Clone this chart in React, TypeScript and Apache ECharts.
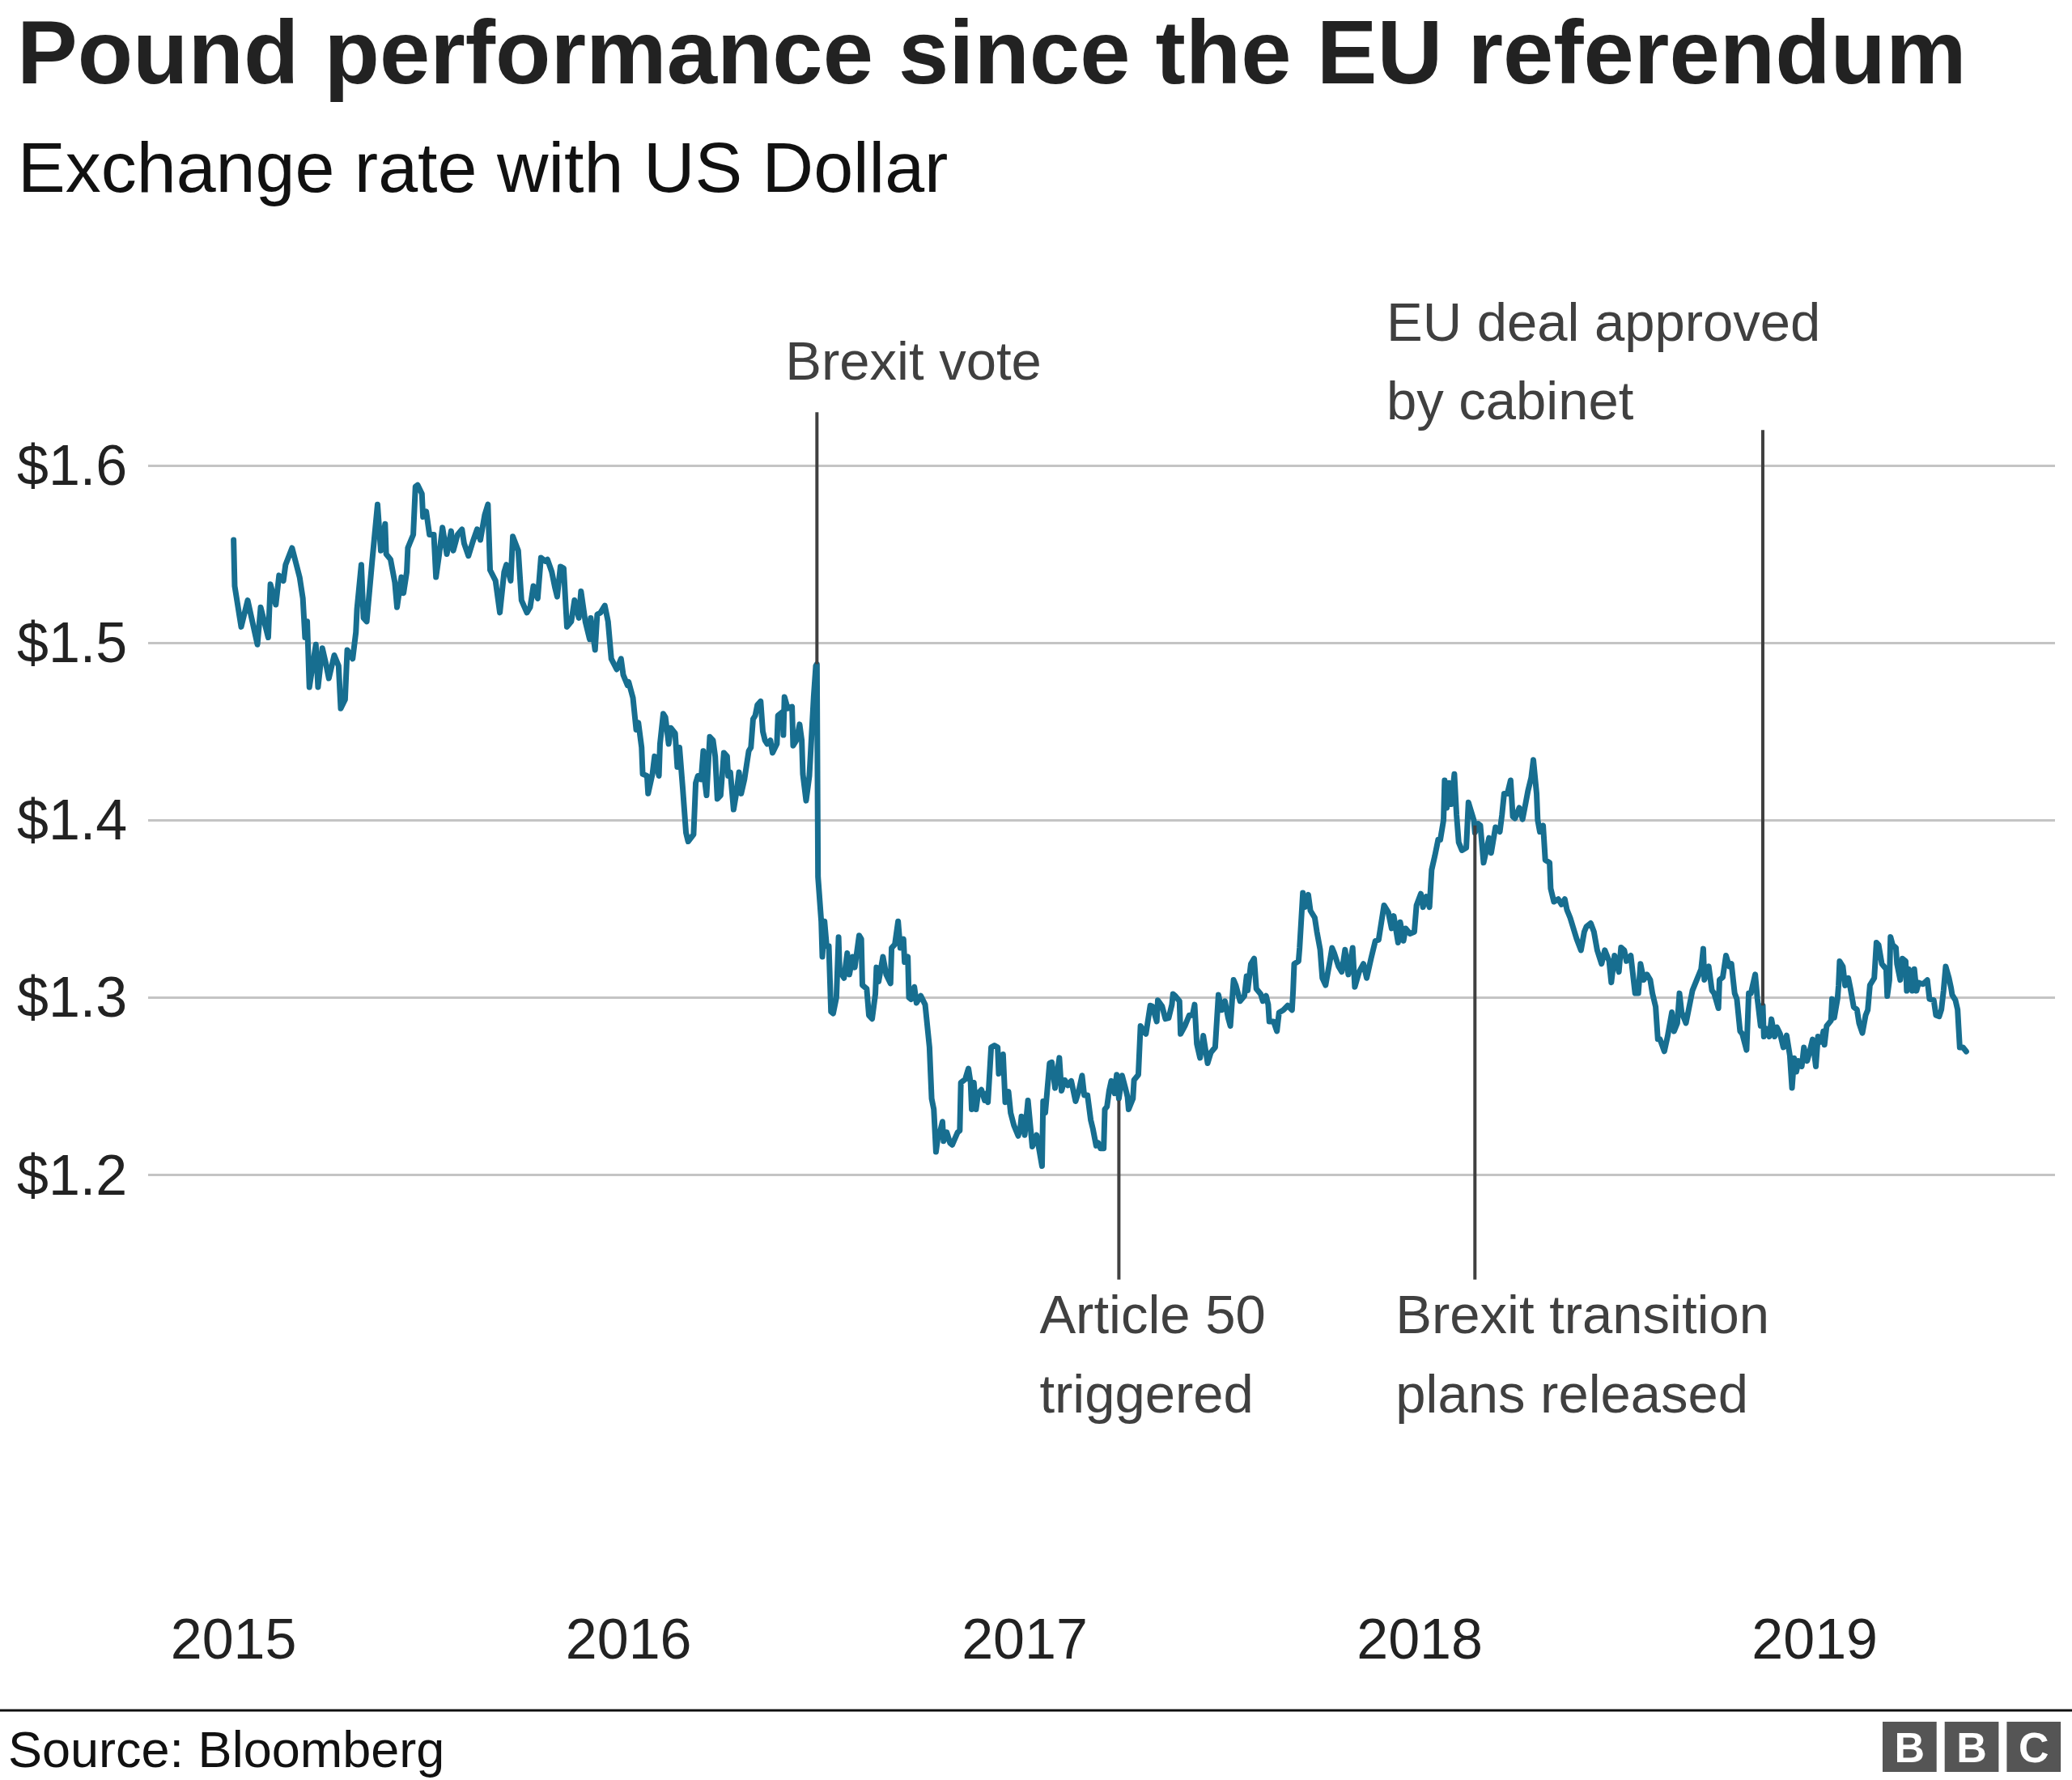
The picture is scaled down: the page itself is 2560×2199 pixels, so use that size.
import React, { useEffect, useRef } from "react";
import * as echarts from "echarts";

// ---------- Texts ----------
const TITLE = "Pound performance since the EU referendum";
const SUBTITLE = "Exchange rate with US Dollar";
const SOURCE = "Source: Bloomberg";
const yearLabels = ["2015", "2016", "2017", "2018", "2019"];
const logoLetters = ["B", "B", "C"];

// ---------- Data: GBP/USD, [month-day, rate] per year ----------
const rates2015: [string, number][] = [
  ["01-01", 1.558], ["01-02", 1.532], ["01-08", 1.509], ["01-14", 1.524], ["01-23", 1.499], ["01-26", 1.52], ["02-02", 1.503], ["02-04", 1.533], ["02-09", 1.5215], ["02-12", 1.538],
  ["02-16", 1.535], ["02-18", 1.544], ["02-24", 1.5535], ["03-03", 1.537], ["03-06", 1.525], ["03-08", 1.503], ["03-10", 1.512], ["03-12", 1.475], ["03-18", 1.499], ["03-20", 1.475],
  ["03-24", 1.497], ["03-27", 1.489], ["03-30", 1.48], ["04-04", 1.493], ["04-08", 1.487], ["04-10", 1.463], ["04-14", 1.468], ["04-16", 1.496], ["04-21", 1.491], ["04-24", 1.506],
  ["04-25", 1.519], ["04-29", 1.544], ["05-01", 1.514], ["05-04", 1.512], ["05-09", 1.546], ["05-14", 1.578], ["05-17", 1.552], ["05-21", 1.567], ["05-22", 1.55], ["05-26", 1.547],
  ["05-30", 1.534], ["06-01", 1.52], ["06-05", 1.537], ["06-07", 1.528], ["06-10", 1.54], ["06-11", 1.5535], ["06-16", 1.561], ["06-18", 1.588], ["06-20", 1.589], ["06-24", 1.584],
  ["06-25", 1.571], ["06-28", 1.574], ["07-01", 1.561], ["07-05", 1.561], ["07-07", 1.537], ["07-10", 1.55], ["07-13", 1.565], ["07-17", 1.55], ["07-21", 1.563], ["07-23", 1.552],
  ["07-27", 1.561], ["07-31", 1.564], ["08-02", 1.556], ["08-06", 1.549], ["08-10", 1.557], ["08-14", 1.564], ["08-17", 1.558], ["08-21", 1.572], ["08-24", 1.578], ["08-26", 1.541],
  ["08-31", 1.535], ["09-04", 1.517], ["09-08", 1.54], ["09-10", 1.544], ["09-14", 1.535], ["09-16", 1.56], ["09-21", 1.552], ["09-24", 1.524], ["09-29", 1.517], ["10-02", 1.52],
  ["10-05", 1.532], ["10-09", 1.525], ["10-12", 1.548], ["10-16", 1.546], ["10-18", 1.547], ["10-22", 1.54], ["10-25", 1.531], ["10-27", 1.526], ["10-30", 1.543], ["11-02", 1.542],
  ["11-05", 1.509], ["11-09", 1.512], ["11-12", 1.524], ["11-16", 1.514], ["11-18", 1.529], ["11-22", 1.512], ["11-26", 1.502], ["11-27", 1.514], ["12-01", 1.496], ["12-03", 1.516],
  ["12-06", 1.517], ["12-10", 1.521], ["12-13", 1.512], ["12-16", 1.491], ["12-21", 1.485], ["12-25", 1.491], ["12-27", 1.482], ["12-31", 1.476],
];

const rates2016: [string, number][] = [
  ["01-01", 1.478], ["01-05", 1.469], ["01-08", 1.451], ["01-10", 1.455], ["01-13", 1.441], ["01-14", 1.426], ["01-18", 1.425], ["01-19", 1.415], ["01-23", 1.426], ["01-25", 1.436],
  ["01-29", 1.425], ["01-30", 1.443], ["02-02", 1.46], ["02-04", 1.458], ["02-07", 1.443], ["02-09", 1.452], ["02-13", 1.449], ["02-15", 1.43], ["02-17", 1.441], ["02-20", 1.418],
  ["02-23", 1.393], ["02-25", 1.388], ["03-01", 1.392], ["03-03", 1.421], ["03-05", 1.425], ["03-08", 1.423], ["03-10", 1.439], ["03-11", 1.424], ["03-13", 1.414], ["03-16", 1.447],
  ["03-19", 1.445], ["03-21", 1.436], ["03-23", 1.412], ["03-26", 1.414], ["03-29", 1.438], ["04-01", 1.436], ["04-02", 1.425], ["04-04", 1.427], ["04-07", 1.406], ["04-10", 1.417],
  ["04-12", 1.427], ["04-14", 1.415], ["04-17", 1.423], ["04-19", 1.431], ["04-21", 1.439], ["04-23", 1.441], ["04-25", 1.457], ["04-27", 1.459], ["04-29", 1.465], ["05-02", 1.467],
  ["05-04", 1.45], ["05-06", 1.445], ["05-08", 1.443], ["05-11", 1.445], ["05-13", 1.438], ["05-17", 1.443], ["05-18", 1.459], ["05-22", 1.461], ["05-23", 1.448], ["05-24", 1.4695],
  ["05-27", 1.463], ["05-31", 1.464], ["06-01", 1.442], ["06-04", 1.445], ["06-07", 1.454], ["06-09", 1.445], ["06-10", 1.426], ["06-13", 1.411], ["06-16", 1.425], ["06-20", 1.4695],
  ["06-22", 1.487], ["06-23", 1.488], ["06-24", 1.368], ["06-27", 1.343], ["06-28", 1.323], ["06-30", 1.343], ["07-02", 1.329], ["07-04", 1.329], ["07-06", 1.292], ["07-08", 1.291],
  ["07-11", 1.3], ["07-13", 1.334], ["07-14", 1.315], ["07-18", 1.311], ["07-21", 1.325], ["07-23", 1.313], ["07-26", 1.323], ["07-28", 1.317], ["08-01", 1.335], ["08-03", 1.333],
  ["08-04", 1.307], ["08-08", 1.305], ["08-10", 1.29], ["08-13", 1.288], ["08-16", 1.302], ["08-17", 1.317], ["08-19", 1.309], ["08-23", 1.323], ["08-26", 1.313], ["08-30", 1.308],
  ["08-31", 1.328], ["09-03", 1.33], ["09-06", 1.343], ["09-08", 1.328], ["09-11", 1.333], ["09-12", 1.32], ["09-15", 1.323], ["09-16", 1.3], ["09-18", 1.299], ["09-21", 1.306],
  ["09-23", 1.297], ["09-27", 1.301], ["10-01", 1.296], ["10-03", 1.284], ["10-05", 1.272], ["10-07", 1.243], ["10-09", 1.237], ["10-11", 1.213], ["10-13", 1.222], ["10-15", 1.225],
  ["10-17", 1.23], ["10-18", 1.219], ["10-21", 1.224], ["10-24", 1.218], ["10-26", 1.217], ["10-31", 1.224], ["11-02", 1.225], ["11-03", 1.252], ["11-07", 1.254], ["11-10", 1.26],
  ["11-12", 1.252], ["11-13", 1.237], ["11-15", 1.252], ["11-17", 1.237], ["11-19", 1.246], ["11-22", 1.248], ["11-25", 1.242], ["11-27", 1.246], ["11-28", 1.241], ["12-01", 1.272],
  ["12-04", 1.273], ["12-07", 1.272], ["12-08", 1.257], ["12-12", 1.268], ["12-14", 1.241], ["12-17", 1.247], ["12-19", 1.235], ["12-22", 1.228], ["12-26", 1.222], ["12-28", 1.227],
  ["12-29", 1.233],
];

const rates2017: [string, number][] = [
  ["01-01", 1.2225], ["01-04", 1.242], ["01-08", 1.216], ["01-12", 1.2225], ["01-17", 1.205], ["01-18", 1.2415], ["01-20", 1.235], ["01-24", 1.263], ["01-26", 1.2635], ["01-29", 1.249],
  ["02-02", 1.266], ["02-04", 1.2475], ["02-07", 1.2535], ["02-10", 1.2505], ["02-13", 1.253], ["02-17", 1.2415], ["02-20", 1.2475], ["02-23", 1.256], ["02-25", 1.245], ["02-28", 1.245],
  ["03-03", 1.231], ["03-05", 1.226], ["03-08", 1.2165], ["03-10", 1.218], ["03-12", 1.215], ["03-15", 1.215], ["03-16", 1.237], ["03-18", 1.2385], ["03-20", 1.2475], ["03-22", 1.253],
  ["03-25", 1.246], ["03-27", 1.2565], ["03-29", 1.243], ["04-01", 1.256], ["04-04", 1.249], ["04-06", 1.244], ["04-07", 1.237], ["04-11", 1.243], ["04-12", 1.2535], ["04-16", 1.2565],
  ["04-18", 1.284], ["04-23", 1.2795], ["04-27", 1.2955], ["04-29", 1.295], ["05-03", 1.2865], ["05-04", 1.2985], ["05-08", 1.295], ["05-11", 1.288], ["05-14", 1.2885], ["05-17", 1.296],
  ["05-18", 1.302], ["05-20", 1.301], ["05-24", 1.298], ["05-25", 1.2795], ["05-29", 1.284], ["06-02", 1.29], ["06-05", 1.29], ["06-07", 1.296], ["06-09", 1.274], ["06-12", 1.266],
  ["06-15", 1.2785], ["06-19", 1.263], ["06-22", 1.269], ["06-26", 1.272], ["06-29", 1.3015], ["07-02", 1.293], ["07-05", 1.298], ["07-08", 1.2885], ["07-10", 1.284], ["07-13", 1.31],
  ["07-15", 1.307], ["07-19", 1.298], ["07-23", 1.301], ["07-25", 1.312], ["07-26", 1.304], ["07-29", 1.319], ["08-01", 1.322], ["08-03", 1.305], ["08-07", 1.302], ["08-09", 1.298],
  ["08-12", 1.301], ["08-14", 1.296], ["08-15", 1.2865], ["08-19", 1.2865], ["08-22", 1.281], ["08-24", 1.2915], ["08-28", 1.293], ["09-01", 1.2955], ["09-05", 1.293], ["09-06", 1.304],
  ["09-07", 1.319], ["09-11", 1.3205], ["09-12", 1.328], ["09-15", 1.359], ["09-17", 1.351], ["09-20", 1.358], ["09-22", 1.349], ["09-26", 1.345], ["09-28", 1.337], ["10-01", 1.327],
  ["10-03", 1.311], ["10-06", 1.307], ["10-10", 1.3205], ["10-12", 1.328], ["10-14", 1.325], ["10-18", 1.3175], ["10-21", 1.3145], ["10-24", 1.327], ["10-27", 1.313], ["10-31", 1.328],
  ["11-02", 1.306], ["11-06", 1.3145], ["11-10", 1.319], ["11-13", 1.311], ["11-17", 1.322], ["11-21", 1.332], ["11-24", 1.3325], ["11-29", 1.352], ["12-03", 1.348], ["12-06", 1.339],
  ["12-08", 1.346], ["12-12", 1.331], ["12-14", 1.3425], ["12-17", 1.332], ["12-19", 1.339], ["12-23", 1.336], ["12-27", 1.337], ["12-29", 1.352],
];

const rates2018: [string, number][] = [
  ["01-02", 1.3585], ["01-04", 1.351], ["01-07", 1.357], ["01-10", 1.351], ["01-12", 1.372], ["01-15", 1.38], ["01-18", 1.389], ["01-20", 1.389], ["01-23", 1.4], ["01-24", 1.4225],
  ["01-26", 1.407], ["01-28", 1.421], ["01-30", 1.409], ["02-02", 1.426], ["02-04", 1.403], ["02-06", 1.3875], ["02-09", 1.383], ["02-13", 1.3845], ["02-15", 1.41], ["02-18", 1.404],
  ["02-20", 1.4], ["02-21", 1.393], ["02-24", 1.398], ["02-26", 1.397], ["03-01", 1.376], ["03-03", 1.3815], ["03-06", 1.39], ["03-08", 1.3815], ["03-12", 1.396], ["03-16", 1.3935],
  ["03-18", 1.403], ["03-20", 1.415], ["03-23", 1.415], ["03-26", 1.4225], ["03-28", 1.402], ["03-30", 1.401], ["04-03", 1.407], ["04-06", 1.4005], ["04-09", 1.41], ["04-11", 1.4165],
  ["04-14", 1.424], ["04-16", 1.434], ["04-19", 1.415], ["04-20", 1.4], ["04-22", 1.3935], ["04-25", 1.397], ["04-27", 1.3775], ["05-01", 1.376], ["05-02", 1.3615], ["05-05", 1.354],
  ["05-09", 1.3555], ["05-12", 1.3525], ["05-15", 1.3555], ["05-17", 1.3495], ["05-20", 1.345], ["05-24", 1.337], ["05-26", 1.333], ["05-30", 1.3267], ["06-02", 1.337], ["06-04", 1.34],
  ["06-08", 1.3419], ["06-11", 1.337], ["06-14", 1.3267], ["06-18", 1.319], ["06-21", 1.3267], ["06-25", 1.3206], ["06-27", 1.3085], ["06-30", 1.3237], ["07-04", 1.3145], ["07-06", 1.3282],
  ["07-09", 1.3267], ["07-11", 1.3206], ["07-15", 1.3237], ["07-19", 1.3024], ["07-22", 1.3024], ["07-24", 1.319], ["07-27", 1.31], ["07-30", 1.313], ["08-02", 1.31], ["08-04", 1.3024],
  ["08-07", 1.2948], ["08-09", 1.2765], ["08-11", 1.2765], ["08-15", 1.2697], ["08-18", 1.278], ["08-22", 1.2917], ["08-24", 1.281], ["08-27", 1.2856], ["08-29", 1.3024], ["08-31", 1.2917],
  ["09-04", 1.2856], ["09-06", 1.2917], ["09-10", 1.304], ["09-15", 1.3115], ["09-18", 1.316], ["09-20", 1.3275], ["09-21", 1.31], ["09-25", 1.3176], ["09-28", 1.304], ["09-30", 1.3024],
  ["10-04", 1.294], ["10-05", 1.31], ["10-08", 1.3115], ["10-11", 1.3237], ["10-14", 1.3176], ["10-16", 1.319], ["10-19", 1.3024], ["10-21", 1.2993], ["10-24", 1.281], ["10-26", 1.2796],
  ["10-30", 1.2704], ["11-01", 1.3024], ["11-03", 1.3024], ["11-07", 1.313], ["11-09", 1.2993], ["11-12", 1.2841], ["11-14", 1.2955], ["11-15", 1.278], ["11-17", 1.2825], ["11-20", 1.278],
  ["11-22", 1.2878], ["11-25", 1.278], ["11-27", 1.2833], ["11-30", 1.2795], ["12-03", 1.2719], ["12-06", 1.2787], ["12-09", 1.2673], ["12-11", 1.2491], ["12-13", 1.2658], ["12-15", 1.2582],
  ["12-17", 1.2643], ["12-20", 1.2612], ["12-22", 1.2719], ["12-25", 1.2643], ["12-27", 1.2688], ["12-30", 1.2764],
];

const rates2019: [string, number][] = [
  ["01-02", 1.2612], ["01-04", 1.278], ["01-07", 1.275], ["01-09", 1.281], ["01-10", 1.2734], ["01-12", 1.284], ["01-16", 1.287], ["01-17", 1.2992], ["01-19", 1.2886], ["01-22", 1.2992],
  ["01-23", 1.3068], ["01-24", 1.3205], ["01-27", 1.3175], ["01-29", 1.3068], ["02-01", 1.311], ["02-03", 1.305], ["02-06", 1.2947], ["02-09", 1.2932], ["02-11", 1.2855], ["02-14", 1.28],
  ["02-17", 1.29], ["02-19", 1.293], ["02-21", 1.307], ["02-25", 1.311], ["02-27", 1.331], ["03-01", 1.3297], ["03-04", 1.319], ["03-08", 1.316], ["03-09", 1.3008], ["03-11", 1.3099],
  ["03-12", 1.3342], ["03-14", 1.3297], ["03-17", 1.3281], ["03-18", 1.319], ["03-21", 1.3099], ["03-23", 1.322], ["03-26", 1.3205], ["03-27", 1.3038], ["03-29", 1.316], ["04-01", 1.3038],
  ["04-03", 1.316], ["04-05", 1.3038], ["04-07", 1.3084], ["04-11", 1.3076], ["04-15", 1.3099], ["04-17", 1.2992], ["04-21", 1.2985], ["04-23", 1.29], ["04-26", 1.2894], ["04-28", 1.2932],
  ["04-30", 1.3038], ["05-02", 1.3175], ["05-05", 1.311], ["05-07", 1.3053], ["05-08", 1.3015], ["05-11", 1.2985], ["05-13", 1.2932], ["05-15", 1.2719], ["05-18", 1.2719], ["05-21", 1.2696],
];

const ratesByYear: [number, [string, number][]][] = [
  [2015, rates2015], [2016, rates2016], [2017, rates2017], [2018, rates2018], [2019, rates2019],
];

// ---------- Annotations ----------
const annotationDates = ["2016-06-23", "2017-03-29", "2018-02-21", "2018-11-14"];
const annotationValues = [1.488, 1.242, 1.397, 1.2955];
const annotationLabels = [
  ["Brexit vote"],
  ["Article 50", "triggered"],
  ["Brexit transition", "plans released"],
  ["EU deal approved", "by cabinet"],
];

// ---------- Layout & style ----------
const W = 2560;
const H = 2199;
const FONT = "'Liberation Sans', Arial, Helvetica, sans-serif";
const LINE_COLOR = "#176e90";
const TEXT_DARK = "#222222";
const ANNO_COLOR = "#404040";
const LAYOUT = {
  grid: { left: 183, right: 21, top: 575, bottom: 747.5 },
  xMin: "2014-10-14",
  xMax: "2019-08-11",
  yMin: 1.2,
  yMax: 1.6,
  yInterval: 0.1,
  yearLabelY: 2025,
  annotationEnds: [1.63, 1.141, 1.141, 1.62],
  annotationTextDx: [-39, -98, -98, -465],
  annotationTextY: [[445], [1623, 1721], [1623, 1721], [397, 494]],
};

function ts(s: string): number {
  const [y, m, d] = s.split("-").map(Number);
  return new Date(y, m - 1, d).getTime();
}

export default function App() {
  const ref = useRef<HTMLDivElement>(null);

  useEffect(() => {
    document.body.style.margin = "0";
    if (!ref.current) return;
    const chart = echarts.init(ref.current, null, { renderer: "svg", width: W, height: H });

    const seriesData = ratesByYear.flatMap(([y, arr]) =>
      arr.map(([md, v]) => [ts(`${y}-${md}`), v])
    );

    chart.setOption({
      animation: false,
      backgroundColor: "#ffffff",
      grid: { ...LAYOUT.grid, containLabel: false },
      xAxis: {
        type: "time",
        min: ts(LAYOUT.xMin),
        max: ts(LAYOUT.xMax),
        axisLine: { show: false },
        axisTick: { show: false },
        axisLabel: { show: false },
        splitLine: { show: false },
      },
      yAxis: {
        type: "value",
        min: LAYOUT.yMin,
        max: LAYOUT.yMax,
        interval: LAYOUT.yInterval,
        axisLine: { show: false },
        axisTick: { show: false },
        splitLine: { show: true, lineStyle: { color: "#c4c4c4", width: 3 } },
        axisLabel: {
          align: "left",
          margin: LAYOUT.grid.left - 21,
          color: TEXT_DARK,
          fontSize: 70,
          fontFamily: FONT,
          formatter: (v: number) => "$" + v.toFixed(1),
        },
      },
      series: [
        {
          type: "line",
          data: seriesData,
          showSymbol: false,
          symbol: "none",
          lineStyle: { color: LINE_COLOR, width: 7, cap: "round", join: "round" },
          z: 3,
        },
      ],
    });

    const px = (d: string, v: number) =>
      chart.convertToPixel({ gridIndex: 0 }, [ts(d), v]) as number[];

    const elements: any[] = [];

    // Title & subtitle
    elements.push({
      type: "text",
      style: { text: TITLE, x: 21, y: 64, fill: TEXT_DARK, fontSize: 112, fontWeight: "bold", fontFamily: FONT, align: "left", verticalAlign: "middle" },
    });
    elements.push({
      type: "text",
      style: { text: SUBTITLE, x: 22, y: 206, fill: "#111111", fontSize: 88, fontFamily: FONT, align: "left", verticalAlign: "middle" },
    });

    // Year labels
    yearLabels.forEach((yl) => {
      const [x] = px(`${yl}-01-01`, LAYOUT.yMin);
      elements.push({
        type: "text",
        style: { text: yl, x, y: LAYOUT.yearLabelY, fill: TEXT_DARK, fontSize: 70, fontFamily: FONT, align: "center", verticalAlign: "middle" },
      });
    });

    // Annotations
    annotationDates.forEach((d, i) => {
      const [x, yA] = px(d, annotationValues[i]);
      const [, yB] = px(d, LAYOUT.annotationEnds[i]);
      elements.push({
        type: "line",
        z: 10,
        shape: { x1: x, y1: yA, x2: x, y2: yB },
        style: { stroke: ANNO_COLOR, lineWidth: 4 },
      });
      annotationLabels[i].forEach((line, j) => {
        elements.push({
          type: "text",
          z: 10,
          style: {
            text: line,
            x: x + LAYOUT.annotationTextDx[i],
            y: LAYOUT.annotationTextY[i][j],
            fill: ANNO_COLOR,
            fontSize: 67,
            fontFamily: FONT,
            align: "left",
            verticalAlign: "middle",
          },
        });
      });
    });

    // Footer rule
    elements.push({
      type: "line",
      shape: { x1: 0, y1: 2113, x2: W, y2: 2113 },
      style: { stroke: "#111111", lineWidth: 3 },
    });
    // Source
    elements.push({
      type: "text",
      style: { text: SOURCE, x: 10, y: 2161, fill: "#111111", fontSize: 63, fontFamily: FONT, align: "left", verticalAlign: "middle" },
    });
    // BBC logo
    logoLetters.forEach((ch, i) => {
      const bx = 2326 + i * 76.7;
      elements.push({
        type: "rect",
        shape: { x: bx, y: 2127, width: 66.7, height: 62 },
        style: { fill: "#555555" },
      });
      elements.push({
        type: "text",
        z: 5,
        style: { text: ch, x: bx + 33.35, y: 2159, fill: "#ffffff", fontSize: 52, fontWeight: "bold", fontFamily: FONT, align: "center", verticalAlign: "middle" },
      });
    });

    chart.setOption({ graphic: { elements } });

    return () => chart.dispose();
  }, []);

  return <div ref={ref} style={{ width: W, height: H }} />;
}
